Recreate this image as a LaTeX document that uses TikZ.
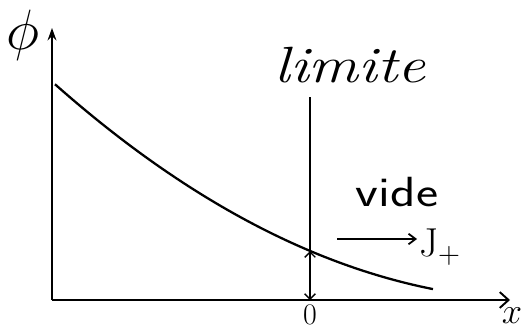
\documentclass[tikz,border=0pt]{standalone}
\usepackage{amsmath,amssymb}
\usepackage{fontspec}
\usetikzlibrary{arrows.meta}

\begin{document}
\begin{tikzpicture}[
    axis/.style={line width=1.1pt},
    curve/.style={line width=1.3pt},
    wall/.style={line width=0.8pt},
    arrow/.style={-{Straight Barb[length=4pt,width=6pt]}, line width=1pt},
    lbl/.style={inner sep=1pt}
]
    \useasboundingbox (-1.04,-0.6) rectangle (9.42,6.0);

    \coordinate (orig) at (0,0);
    \coordinate (ytop) at (0,5.44);
    \coordinate (xend) at (9.16,0);
    \coordinate (wtop) at (5.16,4.06);
    \coordinate (wcut) at (5.16,0.98);
    \coordinate (wfoot) at (5.16,0);
    \coordinate (jstart) at (5.70,1.22);

    \node[lbl, scale=1.3, font=\Huge] (phi) at (-0.58,5.30) {$\phi$};
    \node[lbl, font=\fontsize{22}{24}\selectfont] (xlbl) at (9.20,-0.32) {$x$};
    \node[lbl, font=\fontsize{17}{19}\selectfont] (zero) at (5.16,-0.29) {0};
    \node[lbl, xscale=1.22, font=\fontsize{29}{31}\selectfont\itshape] (limite) at (5.96,4.70) {limite};
    \node[lbl, xscale=1.25, font=\fontsize{24}{26}\selectfont\sffamily] (vide) at (6.90,2.16) {vide};
    \node[lbl, font=\fontsize{23}{25}\selectfont] (jplus) at (7.76,1.06) {J$_+$};

    \draw[axis, -{Stealth[length=7pt,width=5pt]}] (orig) -- (ytop);
    \draw[axis, -{Straight Barb[length=5pt,width=9pt]}] (orig) -- (xend);

    \draw[curve] plot[domain=0.06:7.62, samples=60] (\x, {(2.09-0.213*\x)^2});

    \draw[wall] (wtop) -- (wcut);
    \draw[wall, {Straight Barb[length=3pt,width=6pt]}-{Straight Barb[length=3pt,width=6pt]}] (wcut) -- (wfoot);
    \draw[arrow] (jstart) -- (jplus.west |- jstart);
\end{tikzpicture}
\end{document}
